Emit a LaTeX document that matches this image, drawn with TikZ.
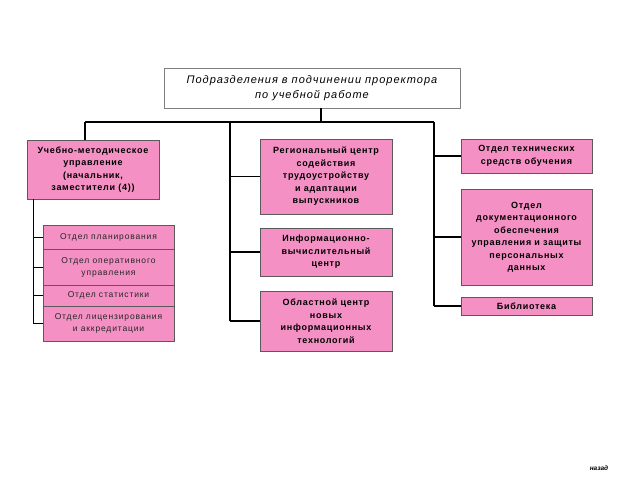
\documentclass[tikz,border=0pt]{standalone}
\usepackage{fontspec}
\setmainfont{Liberation Sans}
\usetikzlibrary{positioning}
\definecolor{pinkbox}{RGB}{244,144,196}
\definecolor{frame}{RGB}{90,90,90}

\begin{document}
\begin{tikzpicture}[x=1pt,y=-1pt,
  box/.style={draw=frame,fill=pinkbox,inner sep=0pt,align=center,
    font=\fontsize{9}{12.5}\selectfont\bfseries\addfontfeature{LetterSpace=8}},
  subbox/.style={box,text=black!85,
    font=\fontsize{8.5}{12}\selectfont\addfontfeature{LetterSpace=10}},
  link/.style={line width=1.5pt}]
\useasboundingbox (0,0) rectangle (640,480);

\node [draw=black!50,fill=white,minimum width=296,minimum height=40,align=center,
  font=\fontsize{11}{15}\selectfont\itshape\addfontfeature{LetterSpace=9}] (top) at (312,88)
  {Подразделения в подчинении проректора\\по учебной работе};

\node [box,minimum width=132,minimum height=59] (um) at (93,169.5)
  {Учебно-методическое\\управление\\(начальник,\\заместители (4))};
\node [subbox,minimum width=131,minimum height=24] (plan) at (108.5,237) {Отдел планирования};
\node [subbox,minimum width=131,minimum height=36] (oper) at (108.5,267) {Отдел оперативного\\управления};
\node [subbox,minimum width=131,minimum height=21] (stat) at (108.5,295.5) {Отдел статистики};
\node [subbox,minimum width=131,minimum height=35] (lic) at (108.5,323.5) {Отдел лицензирования\\и аккредитации};

\node [box,minimum width=132,minimum height=75] (rc) at (326,176.5)
  {Региональный центр\\содействия\\трудоустройству\\и адаптации\\выпускников};
\node [box,minimum width=132,minimum height=48] (ivc) at (326,252)
  {Информационно-\\вычислительный\\центр};
\node [box,minimum width=132,minimum height=60] (oc) at (326,321)
  {Областной центр\\новых\\информационных\\технологий};

\node [box,minimum width=131,minimum height=34] (tso) at (526.5,156)
  {Отдел технических\\средств обучения};
\node [box,minimum width=131,minimum height=96] (doc) at (526.5,237)
  {Отдел\\документационного\\обеспечения\\управления и защиты\\персональных\\данных};
\node [box,minimum width=131,minimum height=18] (lib) at (526.5,306) {Библиотека};

\node [font=\fontsize{6.5}{8}\selectfont\bfseries\itshape] (back) at (599,468) {назад};

\coordinate (busT) at (321,122);
\coordinate (busL) at (85,122);
\coordinate (busC) at (230,122);
\coordinate (busR) at (434,122);
\coordinate (subL) at (33,199);

\draw [link] (top.south -| busT) -- (busT);
\draw [link] (busL) -- (busR);
\draw [link] (busL) -- (busL |- um.north);

\draw [link] (busC) -- (busC |- oc.west);
\foreach \n in {rc,ivc,oc}
  \draw [link] (busC |- \n.west) -- (\n.west);

\draw [link] (busR) -- (busR |- lib.west);
\foreach \n in {tso,doc,lib}
  \draw [link] (busR |- \n.west) -- (\n.west);

\draw [thick] (subL) -- (subL |- lic.west);
\foreach \n in {plan,oper,stat,lic}
  \draw [thick] (subL |- \n.west) -- (\n.west);
\end{tikzpicture}
\end{document}
